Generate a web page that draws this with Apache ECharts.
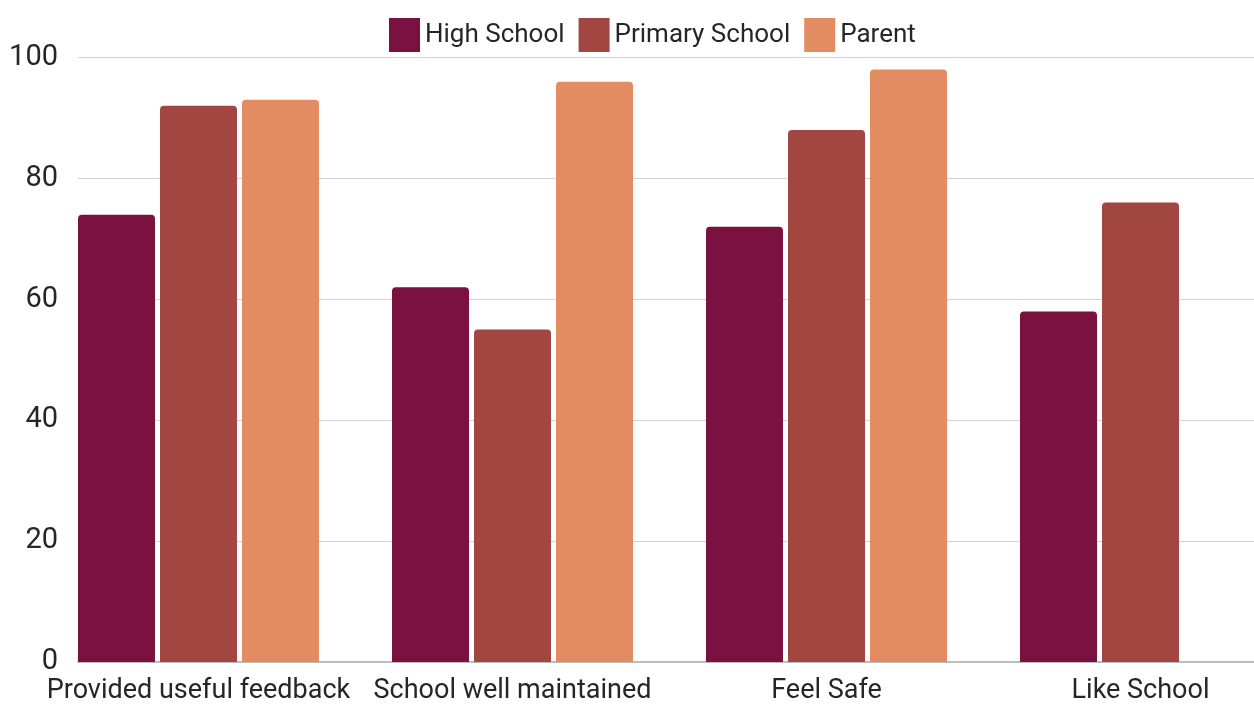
<!DOCTYPE html>
<html><head><meta charset="utf-8">
<script src="https://cdn.jsdelivr.net/npm/echarts@6/dist/echarts.min.js"></script>
<style>html,body{margin:0;padding:0;background:#fff}#c{width:1254px;height:707px}</style>
</head><body><div id="c"></div>
<script>
const categories = ['Provided useful feedback', 'School well maintained', 'Feel Safe', 'Like School'];
const highSchool = [74, 62, 72, 58];
const primarySchool = [92, 55, 88, 76];
const parent = [93, 96, 98, null];
const yTicks = [0, 20, 40, 60, 80, 100];

const FONT = "'Roboto', sans-serif";
const TXT = '#262626';
const chart = echarts.init(document.getElementById('c'));
const colors = ['#7a1140', '#a14641', '#e38c61'];
const radius = [4, 4, 0, 0];
chart.setOption({
  animation: false,
  color: colors,
  legend: {
    left: 384, top: 13, itemWidth: 31, itemHeight: 34, itemGap: 14,
    icon: 'rect',
    textStyle: { fontFamily: FONT, fontSize: 26, color: TXT, padding: [0,0,0,0] },
    data: ['High School', 'Primary School', 'Parent']
  },
  grid: [
    { left: 78, right: 0, top: 57.5, bottom: 45, outerBoundsMode: 'none' },
    { left: 41.5, width: 1256, top: 57.5, bottom: 45, outerBoundsMode: 'none' }
  ],
  xAxis: [
    { gridIndex: 0, type: 'value', min: 0, max: 1, axisLine: { show: true, lineStyle: { color: '#bdbdbd', width: 2 } }, axisTick: { show: false }, axisLabel: { show: false }, splitLine: { show: false } },
    { gridIndex: 1, type: 'category', data: categories, axisLine: { show: false }, axisTick: { show: false },
      axisLabel: { interval: 0, fontFamily: FONT, fontSize: 27, color: TXT, margin: 16 } }
  ],
  yAxis: [
    { gridIndex: 0, type: 'value', min: yTicks[0], max: yTicks[yTicks.length-1], interval: 20,
      axisLine: { show: false }, axisTick: { show: false },
      axisLabel: { fontFamily: FONT, fontSize: 29, color: TXT, margin: 20 },
      splitLine: { lineStyle: { color: '#d4d4d4', width: 1 } } },
    { gridIndex: 1, type: 'value', min: 0, max: 100, show: false }
  ],
  series: [
    { name: 'High School', type: 'bar', xAxisIndex: 1, yAxisIndex: 1, data: highSchool, barWidth: 77, barGap: '6.5%', itemStyle: { borderRadius: radius } },
    { name: 'Primary School', type: 'bar', xAxisIndex: 1, yAxisIndex: 1, data: primarySchool, barWidth: 77, barGap: '6.5%', itemStyle: { borderRadius: radius } },
    { name: 'Parent', type: 'bar', xAxisIndex: 1, yAxisIndex: 1, data: parent, barWidth: 77, barGap: '6.5%', itemStyle: { borderRadius: radius } }
  ]
});
</script></body></html>
